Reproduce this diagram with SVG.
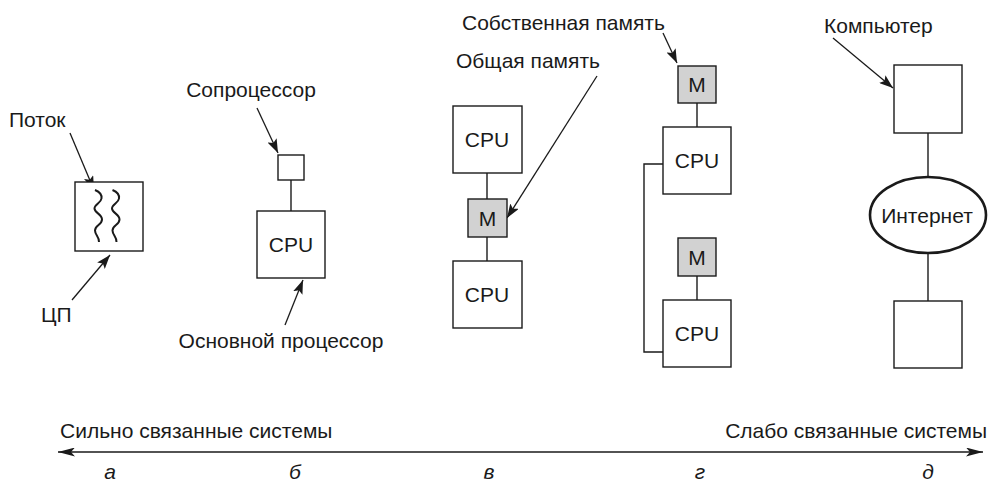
<svg xmlns="http://www.w3.org/2000/svg" width="990" height="483" viewBox="0 0 990 483">
<defs>
<marker id="ah" markerUnits="userSpaceOnUse" markerWidth="15" markerHeight="10" refX="14" refY="5" orient="auto">
<path d="M0,0 L14,5 L0,10 L3,5 z" fill="#1a1a1a"/>
</marker>
<marker id="ahb" markerUnits="userSpaceOnUse" markerWidth="18" markerHeight="9" refX="17" refY="4.5" orient="auto-start-reverse">
<path d="M0,0 L17,4.5 L0,9 L4,4.5 z" fill="#1a1a1a"/>
</marker>
<style>
text{font-family:"Liberation Sans",Arial,Helvetica,sans-serif;font-size:21px;fill:#1a1a1a}
.box{fill:#fff;stroke:#1a1a1a;stroke-width:1.4}
.mem{fill:#d2d2d2;stroke:#1a1a1a;stroke-width:1.4}
.ln{fill:none;stroke:#1a1a1a;stroke-width:1.4}
.sq{fill:none;stroke:#1a1a1a;stroke-width:2}
.ptr{fill:none;stroke:#1a1a1a;stroke-width:1.3;marker-end:url(#ah)}
.c{text-anchor:middle}
.it{font-style:italic}
</style>
</defs>

<g id="connectors">
<line class="ln" x1="291" y1="180" x2="291" y2="211"/>
<line class="ln" x1="487" y1="173" x2="487" y2="199"/>
<line class="ln" x1="487" y1="237" x2="487" y2="261"/>
<line class="ln" x1="697" y1="103" x2="697" y2="127"/>
<line class="ln" x1="697" y1="276" x2="697" y2="300"/>
<polyline class="ln" points="663,164 644,164 644,352 663,352"/>
<line class="ln" x1="928" y1="133" x2="928" y2="177"/>
<line class="ln" x1="928" y1="253" x2="928" y2="301"/>
<line class="ptr" x1="70" y1="133" x2="94" y2="190"/>
<line class="ptr" x1="72" y1="300" x2="110" y2="255"/>
<line class="ptr" x1="257" y1="108" x2="278" y2="153"/>
<line class="ptr" x1="285" y1="325" x2="303" y2="280"/>
<line class="ptr" x1="597" y1="76" x2="507" y2="218"/>
<line class="ptr" x1="663" y1="33" x2="677" y2="63"/>
<line class="ptr" x1="833" y1="38" x2="893" y2="88"/>
<line x1="58" y1="452" x2="983" y2="452" stroke="#1a1a1a" stroke-width="1.6" marker-start="url(#ahb)" marker-end="url(#ahb)"/>
</g>

<g id="node-a-cpu">
<rect class="box" x="75" y="182" width="68" height="69"/>
<path class="sq" d="M95,190 C100,192 102,195 101.5,198.5 C101,203 94.5,204 94.5,208.5 C94.5,213 102,214 102,219.5 C102,225 95,225 95,230.5 C95,235 99.5,237 99,242"/>
<path class="sq" transform="translate(17.5,0)" d="M95,190 C100,192 102,195 101.5,198.5 C101,203 94.5,204 94.5,208.5 C94.5,213 102,214 102,219.5 C102,225 95,225 95,230.5 C95,235 99.5,237 99,242"/>
</g>
<g id="label-a-thread"><text x="9" y="127">Поток</text></g>
<g id="label-a-cpu"><text x="41" y="322">ЦП</text></g>

<g id="node-b-coproc"><rect class="box" x="278" y="155" width="26" height="25"/></g>
<g id="node-b-cpu"><rect class="box" x="257" y="211" width="68" height="67"/><text class="c" x="291" y="252">CPU</text></g>
<g id="label-b-coproc"><text class="c" x="251" y="97">Сопроцессор</text></g>
<g id="label-b-main"><text class="c" x="281" y="348">Основной процессор</text></g>

<g id="node-c-cpu1"><rect class="box" x="453" y="106" width="69" height="67"/><text class="c" x="487" y="147">CPU</text></g>
<g id="node-c-mem"><rect class="mem" x="468" y="199" width="39" height="38"/><text class="c" x="487.5" y="225.5">M</text></g>
<g id="node-c-cpu2"><rect class="box" x="453" y="261" width="69" height="67"/><text class="c" x="487" y="302">CPU</text></g>
<g id="label-c-shared"><text x="456" y="68">Общая память</text></g>

<g id="node-d-mem1"><rect class="mem" x="678" y="66" width="38" height="37"/><text class="c" x="697" y="92">M</text></g>
<g id="node-d-cpu1"><rect class="box" x="663" y="127" width="68" height="67"/><text class="c" x="697" y="168">CPU</text></g>
<g id="node-d-mem2"><rect class="mem" x="678" y="238" width="38" height="38"/><text class="c" x="697" y="264.5">M</text></g>
<g id="node-d-cpu2"><rect class="box" x="663" y="300" width="68" height="67"/><text class="c" x="697" y="341">CPU</text></g>
<g id="label-d-own"><text x="462" y="30">Собственная память</text></g>

<g id="node-e-comp1"><rect class="box" x="894" y="65" width="68" height="68"/></g>
<g id="node-e-internet"><ellipse cx="928" cy="215" rx="58" ry="38" fill="#fff" stroke="#1a1a1a" stroke-width="2.6"/><text class="c" x="927" y="222.5">Интернет</text></g>
<g id="node-e-comp2"><rect class="box" x="894" y="301" width="68" height="67"/></g>
<g id="label-e-comp"><text x="824" y="33">Компьютер</text></g>

<g id="axis-labels">
<text x="60" y="438">Сильно связанные системы</text>
<text x="987" y="438" text-anchor="end">Слабо связанные системы</text>
<text class="c it" x="110" y="479">а</text>
<text class="c it" x="295" y="479">б</text>
<text class="c it" x="489" y="479">в</text>
<text class="c it" x="700" y="479">г</text>
<text class="c it" x="928" y="479">д</text>
</g>
</svg>
